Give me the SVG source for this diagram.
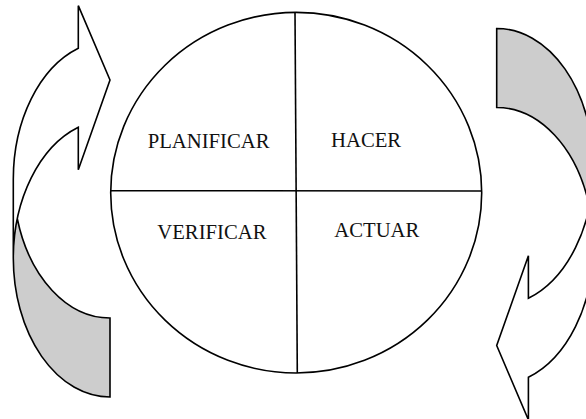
<svg xmlns="http://www.w3.org/2000/svg" width="586" height="419" viewBox="0 0 586 419">
  <style>
    .ln { fill: none; stroke: #000; stroke-width: 1.6; stroke-linejoin: miter; }
    .lbl { font-family: "Liberation Serif", "Times New Roman", serif; font-size: 20.7px; fill: #111; }
    .front { fill: #fff; stroke: none; }
    .back { fill: #cdcdcd; stroke: none; }
  </style>
  <defs>
    <g id="curvedArrow">
      <path class="front" d="M 13.3 179.25 A 96.7 138.75 0 0 1 78.3 48.17 L 78.3 5.67 L 110 80 L 78.3 169.67 L 78.3 127.17 A 96.7 138.75 0 0 0 13.3 258.25 Z"/>
      <path class="back" d="M 110 318 A 96.7 138.75 0 0 1 17.3 218.75 A 96.7 138.75 0 0 0 110 397 Z"/>
      <path class="ln" d="M 13.3 258.25 A 96.7 138.75 0 0 1 78.3 127.17 L 78.3 169.67 L 110 80 L 78.3 5.67 L 78.3 48.17 A 96.7 138.75 0 0 0 13.3 179.25 L 13.3 258.25 A 96.7 138.75 0 0 0 110 397 L 110 318 A 96.7 138.75 0 0 1 17.3 218.75"/>
    </g>
  </defs>
  <rect width="586" height="419" fill="#fff"/>
  <g id="connectors">
    <g id="arrow-left">
      <use href="#curvedArrow"/>
    </g>
    <g id="arrow-right">
      <use href="#curvedArrow" transform="rotate(180 303.35 212.75)"/>
    </g>
  </g>
  <g id="cycle">
    <ellipse cx="296.2" cy="192.7" rx="185.5" ry="180.3" fill="#fff" stroke="#000" stroke-width="1.6"/>
    <line class="ln" x1="295" y1="12.4" x2="297.3" y2="373"/>
    <line class="ln" x1="110.7" y1="190.7" x2="481.7" y2="191"/>
  </g>
  <g id="planificar"><text class="lbl" x="147.7" y="148.3">PLANIFICAR</text></g>
  <g id="hacer"><text class="lbl" x="331" y="146.7">HACER</text></g>
  <g id="verificar"><text class="lbl" x="157.3" y="239.3">VERIFICAR</text></g>
  <g id="actuar"><text class="lbl" x="334.3" y="236.7">ACTUAR</text></g>
</svg>
